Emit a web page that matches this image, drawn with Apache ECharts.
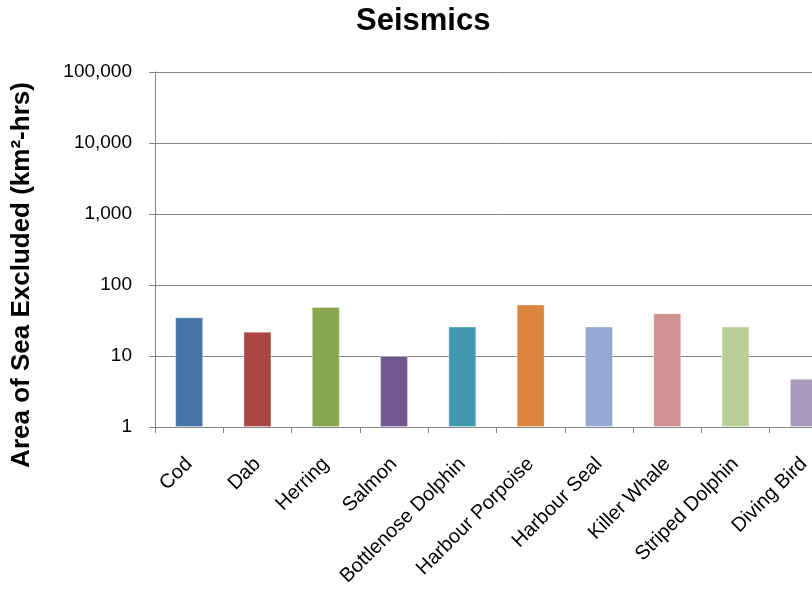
<!DOCTYPE html>
<html>
<head>
<meta charset="utf-8">
<title>Seismics</title>
<script src="https://cdn.jsdelivr.net/npm/echarts@6/dist/echarts.min.js"></script>
<style>
  html, body { margin: 0; padding: 0; background: #fff; overflow: hidden; }
  #chart { width: 850px; height: 590px; }
</style>
</head>
<body>
<div id="chart"></div>
<script>
// Species and their excluded sea area (km²-hrs) for seismic surveys
const species = ['Cod', 'Dab', 'Herring', 'Salmon', 'Bottlenose Dolphin',
  'Harbour Porpoise', 'Harbour Seal', 'Killer Whale', 'Striped Dolphin', 'Diving Bird'];
const areaExcluded = [35, 22, 49, 10, 26, 53, 26, 40, 26, 4.8];

// Log-scale ticks and their printed labels
const yTicks = [1, 10, 100, 1000, 10000, 100000];
const yTickLabels = ['1', '10', '100', '1,000', '10,000', '100,000'];

// One colour per species bar
const barColors = ['#4572A7', '#AA4643', '#89A54E', '#71588F', '#4198AF',
  '#DB843D', '#93A9CF', '#D19392', '#B9CD96', '#A99BBD'];

const FONT = '"Liberation Sans", Arial, sans-serif';
const GREY = '#868686';

const chart = echarts.init(document.getElementById('chart'));
chart.setOption({
  animation: false,
  backgroundColor: '#fff',
  title: {
    text: 'Seismics',
    left: 351,
    top: 1,
    textStyle: { fontFamily: FONT, fontSize: 31, fontWeight: 'bold', color: '#000' }
  },
  graphic: [{
    type: 'text',
    x: 22,
    y: 275,
    rotation: Math.PI / 2,
    style: {
      text: 'Area of Sea Excluded (km²-hrs)',
      font: 'bold 26px ' + FONT,
      fill: '#000',
      textAlign: 'center',
      textVerticalAlign: 'middle'
    }
  }],
  grid: { left: 155, right: 12, top: 72, bottom: 163 },
  xAxis: {
    type: 'category',
    data: species,
    boundaryGap: true,
    axisLine: { lineStyle: { color: GREY, width: 1 } },
    axisTick: { show: true, interval: 0, length: 6, lineStyle: { color: GREY } },
    axisLabel: {
      interval: 0,
      rotate: 45,
      margin: 34,
      fontFamily: FONT,
      fontSize: 20,
      color: '#000'
    }
  },
  yAxis: {
    type: 'log',
    logBase: 10,
    min: 1,
    max: 100000,
    axisLine: { show: true, lineStyle: { color: GREY, width: 1 } },
    axisTick: { show: true, length: 6, lineStyle: { color: GREY } },
    splitLine: { show: true, lineStyle: { color: GREY, width: 1 } },
    minorTick: { show: false },
    axisLabel: {
      margin: 23,
      fontFamily: FONT,
      fontSize: 19,
      color: '#000',
      formatter: function (v) {
        const i = yTicks.findIndex(t => Math.abs(t - v) / t < 1e-6);
        return i >= 0 ? yTickLabels[i] : '';
      }
    }
  },
  series: [{
    type: 'bar',
    barWidth: 28,
    data: areaExcluded.map((v, i) => ({
      value: v,
      itemStyle: { color: barColors[i] }
    })),
    itemStyle: { borderColor: 'rgba(255,255,255,0.35)', borderWidth: 1 }
  }]
});
</script>
</body>
</html>
